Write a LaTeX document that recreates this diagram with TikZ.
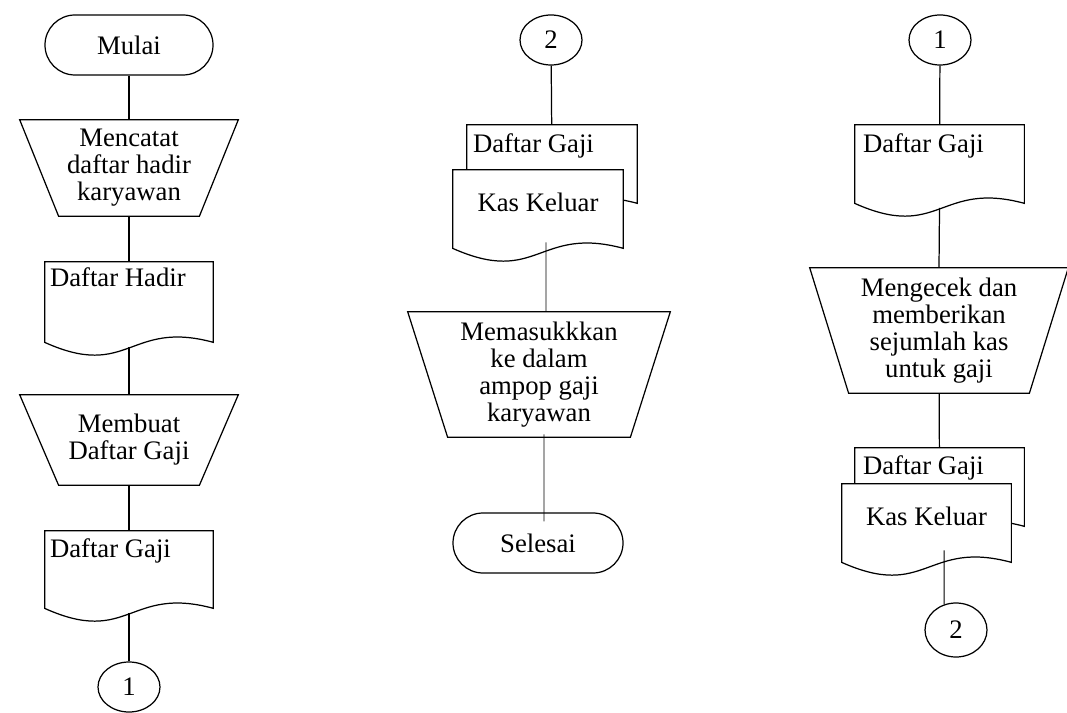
\documentclass[tikz,border=0pt]{standalone}
\usepackage{fontspec}
\setmainfont{Liberation Serif}
\usetikzlibrary{shapes.geometric}

% bentuk-bentuk flowchart
\tikzset{
  garis/.style={line width=0.7pt},
  terminal/.style={garis, draw, rounded corners=6mm, minimum width=33.6mm, minimum height=12mm, inner sep=0pt},
  konektor/.style={garis, draw, ellipse, minimum width=12.4mm, minimum height=10mm, inner sep=0pt},
  manual/.style={align=center, inner sep=0pt},
  dokumen/.style={minimum width=33.8mm, minimum height=15.6mm, inner sep=0pt},
  isi/.style={anchor=base west, inner sep=0pt}
}
% trapesium operasi manual: #1 = nama node, #2 = jarak miring
\newcommand{\manualop}[2]{\draw[garis] (#1.north west) -- (#1.north east) -- ([xshift=-#2]#1.south east) -- ([xshift=#2]#1.south west) -- cycle;}
% dokumen dengan sisi bawah bergelombang
\newcommand{\dokbentuk}[1]{\draw[garis, fill=white] (#1.south west) -- (#1.north west) -- (#1.north east) -- (#1.south east) .. controls ([yshift=4.6mm]#1.south) and ([yshift=-7.6mm]#1.south) .. (#1.south west) -- cycle;}

\begin{document}
\begin{tikzpicture}[x=0.2mm, y=-0.2mm, font=\fontsize{15.2pt}{15.4pt}\selectfont]
    \useasboundingbox (0,0) rectangle (1067,713);

    % === Kolom 1 ===
    \node[terminal] (mulai) at (129,45) {Mulai};
    \node[manual, minimum width=43.6mm, minimum height=19.2mm] (t1) at (129,168) {Mencatat\\daftar hadir\\karyawan};
    \manualop{t1}{7.8mm}
    \node[dokumen, minimum width=33.6mm, minimum height=16mm] (dh) at (129,302) {};
    \dokbentuk{dh}
    \node[isi] at ([xshift=1mm, yshift=-5mm]dh.north west) {Daftar Hadir};
    \node[manual, minimum width=43.6mm, minimum height=18mm] (t2) at (129,440) {Membuat\\Daftar Gaji};
    \manualop{t2}{7.8mm}
    \node[dokumen, minimum width=33.6mm, minimum height=15.4mm] (dg1) at (129,569.5) {};
    \dokbentuk{dg1}
    \node[isi] at ([xshift=1mm, yshift=-5.4mm]dg1.north west) {Daftar Gaji};
    \node[konektor] (c1a) at (129,687) {1};

    \draw[garis] (mulai) -- (t1);
    \draw[garis] (t1) -- (dh);
    \draw[garis] ([yshift=-0.9mm]dh.south) -- (t2.north);
    \draw[garis] (t2) -- (dg1);
    \draw[garis] ([yshift=-0.9mm]dg1.south) -- (c1a);

    % === Kolom 2 ===
    \node[konektor] (c2a) at (551,40) {2};
    \node[dokumen, minimum width=34mm] (dg2b) at (552,164) {};
    \dokbentuk{dg2b}
    \node[isi] at ([xshift=1.2mm, yshift=-5.6mm]dg2b.north west) {Daftar Gaji};
    \node[dokumen, minimum width=34mm] (kk2) at (538,209) {};
    \dokbentuk{kk2}
    \node[anchor=base, inner sep=0pt] at ([yshift=-8.4mm]kk2.north) {Kas Keluar};
    \node[manual, minimum width=52.4mm, minimum height=25mm] (t3) at (539,374.5) {Memasukkkan\\ke dalam\\ampop gaji\\karyawan};
    \manualop{t3}{8mm}
    \node[terminal, minimum width=34mm] (selesai) at (538,543) {Selesai};

    \draw[garis] (c2a) -- (dg2b);
    \draw[line width=0.55pt] ([xshift=1.6mm, yshift=1.2mm]kk2.south) -- ([xshift=1.4mm]t3.north);
    \draw[line width=0.55pt] ([xshift=1mm, yshift=0.6mm]t3.south) -- ([xshift=1.2mm, yshift=-1.8mm]selesai.north);

    % === Kolom 3 ===
    \node[konektor] (c1b) at (940,40) {1};
    \node[dokumen] (dg3) at (939.5,164) {};
    \dokbentuk{dg3}
    \node[isi] at ([xshift=1.6mm, yshift=-5.6mm]dg3.north west) {Daftar Gaji};
    \node[manual, minimum width=51.6mm, minimum height=25mm] (t4) at (939,330.5) {Mengecek dan\\memberikan\\sejumlah kas\\untuk gaji};
    \manualop{t4}{7.8mm}
    \node[dokumen] (dg3b) at (939.5,487) {};
    \dokbentuk{dg3b}
    \node[isi] at ([xshift=1.6mm, yshift=-5.4mm]dg3b.north west) {Daftar Gaji};
    \node[dokumen] (kk3) at (926.5,523) {};
    \dokbentuk{kk3}
    \node[anchor=base, inner sep=0pt] at ([yshift=-8.4mm]kk3.north) {Kas Keluar};
    \node[konektor, minimum height=10.8mm] (c2b) at (956,630) {2};

    \draw[garis] (c1b) -- (dg3);
    \draw[garis] ([yshift=-0.9mm]dg3.south) -- (t4.north);
    \draw[garis] (t4) -- (dg3b);
    \draw[line width=0.55pt] ([xshift=3.5mm, yshift=2.4mm]kk3.south) -- ([xshift=-2.4mm, yshift=-0.4mm]c2b.north);
\end{tikzpicture}
\end{document}
